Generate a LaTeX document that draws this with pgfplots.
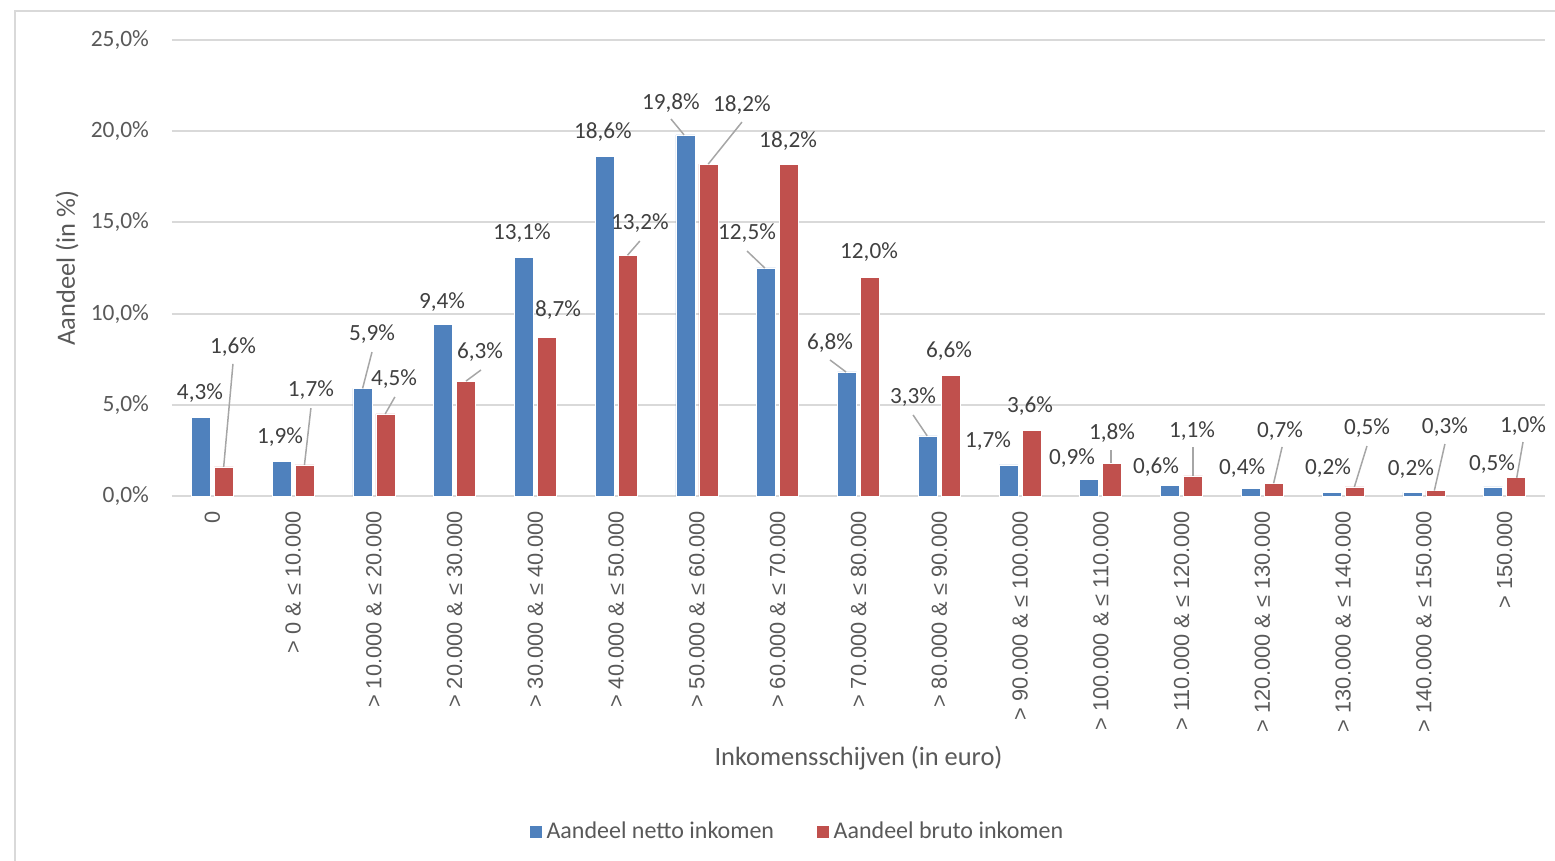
\documentclass[border=0pt]{standalone}
\usepackage{pgfplots}
\pgfplotsset{compat=1.18}
\usepackage{fontspec}
\setmainfont{Carlito}
\newfontfamily\arialf{Liberation Sans}
\definecolor{netto}{HTML}{4F81BD}
\definecolor{bruto}{HTML}{C0504D}
\definecolor{txt}{HTML}{595959}
\definecolor{lblc}{HTML}{404040}
\definecolor{gridc}{HTML}{D9D9D9}
\definecolor{leadc}{HTML}{A6A6A6}

% data label and leader line
\newcommand{\lab}[3]{\node[text=lblc,font=\fontsize{11.6}{13}\selectfont,inner sep=0pt] at (axis cs:#1,#2) {#3};}
\newcommand{\lead}[4]{\draw[leadc,line width=0.75pt] (axis cs:#1,#2) -- (axis cs:#3,#4);}

\begin{document}
\begin{tikzpicture}
\useasboundingbox (-86pt,-182.5pt) rectangle (691.5pt,248pt);
\draw[gridc,line width=0.8pt] (-78.5pt,-200pt) -- (-78.5pt,242.5pt) -- (720pt,242.5pt);
\begin{axis}[
  at={(0pt,0pt)}, anchor=south west,
  scale only axis,
  width=686.5pt, height=228pt,
  ybar=2pt, bar width=9.5pt,
  xmin=-0.5, xmax=16.5,
  ymin=0, ymax=25,
  clip=false,
  axis line style={draw=none},
  major tick length=0pt,
  ymajorgrids,
  grid style={gridc,line width=1pt},
  ytick={0,5,10,15,20,25},
  yticklabels={{0,0\%},{5,0\%},{10,0\%},{15,0\%},{20,0\%},{25,0\%}},
  yticklabel style={text=txt,font=\fontsize{11.7}{13}\selectfont,xshift=-8pt},
  xtick={0,...,16},
  xticklabels={
    0,
    > 0 \& ≤ 10.000,
    > 10.000 \& ≤ 20.000,
    > 20.000 \& ≤ 30.000,
    > 30.000 \& ≤ 40.000,
    > 40.000 \& ≤ 50.000,
    > 50.000 \& ≤ 60.000,
    > 60.000 \& ≤ 70.000,
    > 70.000 \& ≤ 80.000,
    > 80.000 \& ≤ 90.000,
    > 90.000 \& ≤ 100.000,
    > 100.000 \& ≤ 110.000,
    > 110.000 \& ≤ 120.000,
    > 120.000 \& ≤ 130.000,
    > 130.000 \& ≤ 140.000,
    > 140.000 \& ≤ 150.000,
    > 150.000},
  xticklabel shift=4pt,
  xticklabel style={rotate=90,anchor=east,text=txt,font=\arialf\fontsize{10.9}{12}\selectfont},
  xlabel={Inkomensschijven (in euro)},
  xlabel style={at={(axis description cs:0.5,-0.5746)},anchor=center,text=txt,font=\fontsize{13.2}{15}\selectfont},
  ylabel={Aandeel (in \%)},
  ylabel style={at={(axis description cs:-0.0765,0.5)},anchor=center,text=txt,font=\fontsize{13.2}{15}\selectfont},
  legend columns=2,
  legend style={at={(axis description cs:0.456,-0.736)},anchor=center,draw=none,
    text=txt,font=\fontsize{12}{14}\selectfont,
    /tikz/every even column/.append style={column sep=19pt}},
  legend image code/.code={\fill[#1] (0pt,-3.25pt) rectangle (6.5pt,3.25pt);},
]
\addplot[fill=netto,draw=white,line width=0.3pt] coordinates {
  (0,4.3) (1,1.9) (2,5.9) (3,9.4) (4,13.1) (5,18.6) (6,19.8) (7,12.5) (8,6.8)
  (9,3.3) (10,1.7) (11,0.9) (12,0.6) (13,0.4) (14,0.2) (15,0.2) (16,0.5)};
\addlegendentry{Aandeel netto inkomen}
\addplot[fill=bruto,draw=white,line width=0.3pt] coordinates {
  (0,1.6) (1,1.7) (2,4.5) (3,6.3) (4,8.7) (5,13.2) (6,18.2) (7,18.2) (8,12.0)
  (9,6.6) (10,3.6) (11,1.8) (12,1.1) (13,0.7) (14,0.5) (15,0.3) (16,1.0)};
\addlegendentry{Aandeel bruto inkomen}

% leader lines
\lead{0.255}{7.24}{0.14}{1.6}
\lead{1.22}{4.82}{1.14}{1.7}
\lead{1.976}{7.89}{1.86}{5.9}
\lead{2.26}{5.43}{2.14}{4.5}
\lead{3.326}{6.91}{3.14}{6.3}
\lead{5.293}{13.98}{5.14}{13.2}
\lead{5.678}{20.67}{5.84}{19.8}
\lead{6.557}{20.5}{6.14}{18.2}
\lead{6.62}{13.43}{6.84}{12.5}
\lead{7.647}{7.46}{7.845}{6.8}
\lead{8.676}{4.44}{8.85}{3.3}
\lead{11.127}{2.52}{11.127}{1.8}
\lead{12.144}{2.69}{12.144}{1.1}
\lead{13.245}{2.69}{13.14}{0.7}
\lead{14.296}{2.74}{14.14}{0.5}
\lead{15.261}{2.85}{15.13}{0.3}
\lead{16.228}{2.96}{16.15}{1.0}

% data labels
\lab{-0.154}{5.65}{4,3\%}   \lab{0.255}{8.17}{1,6\%}
\lab{0.837}{3.23}{1,9\%}    \lab{1.22}{5.81}{1,7\%}
\lab{1.976}{8.88}{5,9\%}    \lab{2.25}{6.41}{4,5\%}
\lab{2.843}{10.64}{9,4\%}   \lab{3.313}{7.89}{6,3\%}
\lab{3.833}{14.42}{13,1\%}  \lab{4.279}{10.2}{8,7\%}
\lab{4.835}{19.96}{18,6\%}  \lab{5.293}{14.97}{13,2\%}
\lab{5.678}{21.55}{19,8\%}  \lab{6.557}{21.44}{18,2\%}
\lab{6.62}{14.42}{12,5\%}   \lab{7.128}{19.46}{18,2\%}
\lab{7.647}{8.39}{6,8\%}    \lab{8.13}{13.38}{12,0\%}
\lab{8.676}{5.43}{3,3\%}    \lab{9.121}{7.95}{6,6\%}
\lab{9.604}{3.02}{1,7\%}    \lab{10.124}{4.93}{3,6\%}
\lab{10.643}{2.08}{0,9\%}   \lab{11.139}{3.45}{1,8\%}
\lab{11.684}{1.59}{0,6\%}   \lab{12.13}{3.56}{1,1\%}
\lab{12.75}{1.54}{0,4\%}    \lab{13.22}{3.56}{0,7\%}
\lab{13.813}{1.54}{0,2\%}   \lab{14.296}{3.73}{0,5\%}
\lab{14.84}{1.48}{0,2\%}    \lab{15.261}{3.78}{0,3\%}
\lab{15.844}{1.75}{0,5\%}   \lab{16.228}{3.84}{1,0\%}
\end{axis}
\end{tikzpicture}
\end{document}
